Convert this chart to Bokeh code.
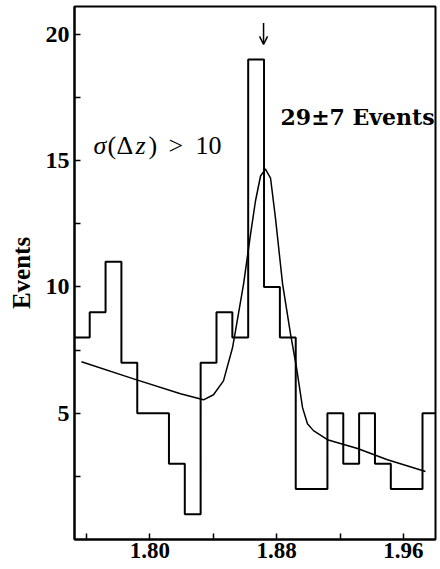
from bokeh.plotting import figure
from bokeh.models import Range1d, FixedTicker, PrintfTickFormatter, Arrow, OpenHead, ColumnDataSource
from bokeh.core.properties import value
from bokeh.embed import file_html
from bokeh.resources import INLINE

# ---- data ----
bin_edges = [1.752, 1.762, 1.772, 1.782, 1.792, 1.802, 1.812, 1.822, 1.832, 1.842,
             1.852, 1.862, 1.872, 1.882, 1.892, 1.902, 1.912, 1.922, 1.932, 1.942,
             1.952, 1.962, 1.972, 1.982]
counts = [8, 9, 11, 7, 5, 5, 3, 1, 7, 9, 8, 19, 10, 8, 2, 2, 5, 3, 5, 3, 2, 2, 5]

fit_x = [1.7568, 1.7897, 1.8193, 1.8338, 1.8401, 1.8464, 1.8521, 1.8540, 1.8591,
         1.8635, 1.8666, 1.8698, 1.8729, 1.8761, 1.8792, 1.8837, 1.8887, 1.8925,
         1.8963, 1.8994, 1.9032, 1.9120, 1.9310, 1.9499, 1.9739]
fit_y = [7.04, 6.36, 5.77, 5.53, 5.73, 6.28, 7.59, 8.26, 10.12,
         12.09, 13.40, 14.39, 14.66, 14.31, 12.73, 10.12, 8.14, 6.80,
         5.22, 4.58, 4.31, 3.95, 3.60, 3.16, 2.69]

x_major = [1.80, 1.88, 1.96]
x_minor = [1.76, 1.84, 1.92]
y_major = [5, 10, 15, 20]
y_minor = [2.5, 7.5, 12.5, 17.5]

signal_label = "29\u00b17 Events"
cut_pieces = ["\u03c3", "(", "\u0394", "z", ")", ">", "10"]
cut_styles = ["italic", "normal", "normal", "italic", "normal", "normal", "normal"]
y_label = "Events"

# ---- figure ----
p = figure(width=440, height=569, output_backend="svg", toolbar_location=None,
           x_range=Range1d(1.7524, 1.9802), y_range=Range1d(0, 21.1),
           min_border_left=74, min_border_right=5, min_border_top=6, min_border_bottom=30,
           background_fill_color="white", border_fill_color="white")
p.grid.visible = False
p.outline_line_color = "black"
p.outline_line_width = 2

# histogram outline as a step line
step_y = counts + [counts[-1]]
p.step(x=bin_edges, y=step_y, mode="after", line_color="black", line_width=2)

# fit curve
p.line(x=fit_x, y=fit_y, line_color="black", line_width=1.5, line_join="round")

# arrow marking the peak
p.add_layout(Arrow(end=OpenHead(size=8, line_width=1.5, line_color="black"),
                   x_start=1.8717, y_start=20.45, x_end=1.8717, y_end=19.6,
                   line_width=1.5, line_color="black"))

# annotations
p.text(x=[1.8824], y=[16.72], text=[signal_label],
       text_font=value("DejaVu Serif"), text_font_style="bold",
       text_font_size="22px", text_baseline="alphabetic", text_align="left",
       text_color="black")

cut_src = ColumnDataSource(dict(
    x=[1.7644] * len(cut_pieces), y=[15.6] * len(cut_pieces),
    text=cut_pieces, style=cut_styles,
    xo=[0, 14, 23, 42, 55, 75, 102]))
p.text(x="x", y="y", text="text", x_offset="xo", source=cut_src,
       text_font=value("Liberation Serif"), text_font_style="style",
       text_font_size="26px", text_baseline="alphabetic", text_align="left",
       text_color="black")

# axes
for ax in (p.xaxis[0], p.yaxis[0]):
    ax.axis_line_color = "black"
    ax.axis_line_width = 2
    ax.major_tick_line_color = "black"
    ax.minor_tick_line_color = "black"
    ax.major_tick_line_width = 1.5
    ax.minor_tick_line_width = 1.5
    ax.major_tick_out = 0
    ax.minor_tick_out = 0
    ax.major_tick_in = 6
    ax.minor_tick_in = 6
    ax.major_label_text_font = "Liberation Serif"
    ax.major_label_text_font_style = "bold"
    ax.major_label_text_color = "black"

p.xaxis[0].ticker = FixedTicker(ticks=x_major, minor_ticks=x_minor)
p.xaxis[0].formatter = PrintfTickFormatter(format="%.2f")
p.xaxis[0].major_label_text_font_size = "23px"
p.xaxis[0].major_label_standoff = 3

p.yaxis[0].ticker = FixedTicker(ticks=y_major, minor_ticks=y_minor)
p.yaxis[0].major_label_text_font_size = "24px"
p.yaxis[0].major_label_standoff = 5
p.yaxis[0].axis_label = y_label
p.yaxis[0].axis_label_text_font = "Liberation Serif"
p.yaxis[0].axis_label_text_font_style = "bold"
p.yaxis[0].axis_label_text_font_size = "25px"
p.yaxis[0].axis_label_text_color = "black"
p.yaxis[0].axis_label_standoff = 8

open("out.html", "w").write(file_html(p, INLINE))
